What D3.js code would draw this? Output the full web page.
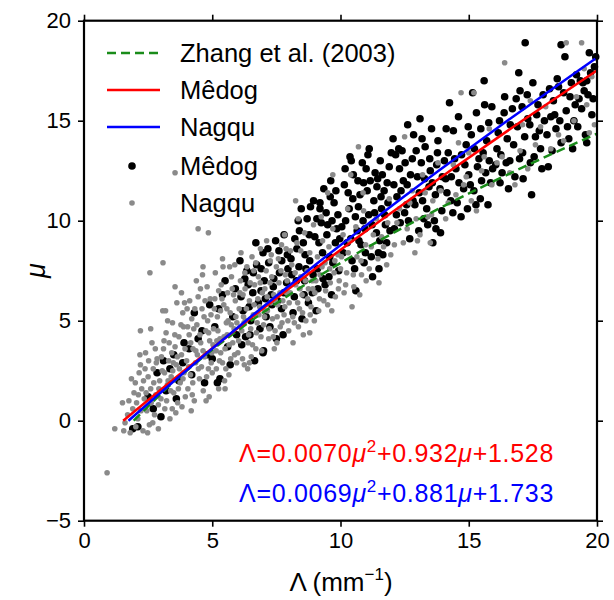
<!DOCTYPE html>
<html>
<head>
<meta charset="utf-8">
<script src="https://cdn.jsdelivr.net/npm/d3@7"></script>
<style>
body { margin: 0; background: #fff; }
svg { font-family: "Liberation Sans", Arial, sans-serif; }
</style>
</head>
<body>
<div id="chart"></div>
<script>
// tick values and labels
const xTicks = [0, 5, 10, 15, 20];
const xTickLabels = ['0', '5', '10', '15', '20'];
const yTicks = [-5, 0, 5, 10, 15, 20];
const yTickLabels = ['\u22125', '0', '5', '10', '15', '20'];

// fitted curves, read along mu
const zhangMu = [0, 2.5, 5, 7.5, 10, 12.5, 14.35];
const zhangLambda = [1.935, 4.0, 6.52, 9.5, 12.94, 16.83, 20.0];
const medogMu = [0, 2.5, 5, 7.5, 10, 12.5, 15, 17.5];
const medogLambda = [1.528, 3.902, 6.363, 8.912, 11.548, 14.272, 17.083, 19.982];
const nagquMu = [0, 2.5, 5, 7.5, 10, 12.5, 15, 17.5, 18.1];
const nagquLambda = [1.733, 3.979, 6.311, 8.729, 11.233, 13.824, 16.501, 19.264, 19.94];

// scatter points [Lambda, mu]
const medogPoints = [
  [1.9,-0.4],[2.1,-0.3],[3.0,0.2],[2.85,2.4],[3.35,2.6],[2.5,1.2],[2.7,0.6],[3.2,1.5],[3.5,3.3],[3.7,2.0],[3.9,3.9],[3.6,1.1],[3.1,3.0],[3.85,2.9],
  [4.45,4.1],[4.6,4.5],[4.2,2.3],[4.3,5.4],[4.8,3.3],[4.9,5.8],[4.1,3.6],[4.7,1.9],[5.2,1.9],[5.3,2.1],[5.1,4.7],[5.4,6.3],[5.6,3.7],[5.8,5.2],[5.5,7.0],[5.9,6.6],[5.7,2.8],[5.0,3.1],[5.25,5.6],[5.95,4.3],
  [6.08,8.0],[6.98,8.4],[6.65,3.0],[6.98,3.4],[7.0,3.5],[7.5,4.1],[7.76,4.3],[6.2,5.5],[6.4,6.8],[6.3,4.2],[6.6,7.4],[6.8,5.9],[6.5,5.0],[6.9,6.5],[7.2,7.9],[7.1,5.2],[7.3,6.3],[7.4,7.1],[7.6,8.5],[7.7,5.6],[7.9,6.9],[7.8,9.3],[7.25,4.7],[6.15,3.8],[6.7,8.9],[7.55,6.0],[7.95,7.6],[6.35,7.5],
  [6.12,6.2],[6.27,7.1],[6.44,5.7],[6.58,6.4],[6.73,7.8],[6.86,4.6],[7.03,7.0],[7.17,8.6],[7.33,5.8],[7.47,9.0],[7.62,7.4],[7.79,6.4],[7.93,8.3],[6.91,7.6],[7.38,6.7],[7.71,8.0],[6.47,4.3],[7.07,6.1],
  [8.15,5.4],[8.5,5.1],[8.1,7.3],[8.3,8.6],[8.2,6.2],[8.4,9.5],[8.6,7.0],[8.7,10.1],[8.8,8.0],[8.9,6.4],[8.55,8.9],[8.75,5.9],[9.0,9.2],[9.1,7.6],[9.2,10.6],[9.3,8.4],[9.4,6.8],[9.5,9.8],[9.6,11.2],[9.7,7.9],[9.8,8.9],[9.9,10.3],[9.35,11.6],[9.05,5.5],[9.65,6.3],[8.95,11.0],[9.55,7.2],[9.85,9.6],[8.35,10.0],[9.25,9.9],[9.75,10.9],[8.65,7.6],[9.2,10.9],
  [8.07,8.1],[8.22,9.1],[8.38,7.7],[8.47,10.6],[8.62,8.3],[8.78,9.3],[8.93,7.3],[9.08,10.1],[9.16,8.9],[9.32,7.1],[9.44,10.4],[9.58,8.2],[9.67,10.0],[9.82,11.5],[9.93,7.5],[8.83,10.7],[9.47,9.3],[9.12,6.6],[8.28,7.0],[9.97,9.1],[9.62,12.0],[8.58,6.3],
  [10.37,13.2],[11.07,13.3],[10.6,6.5],[11.5,7.6],[10.1,8.4],[10.2,10.0],[10.3,11.4],[10.4,9.1],[10.5,12.3],[10.55,7.6],[10.7,10.7],[10.8,8.8],[10.9,11.9],[10.95,9.6],[11.0,12.6],[11.1,10.3],[11.2,8.2],[11.3,11.0],[11.4,9.4],[11.45,12.1],[11.6,10.6],[11.7,11.5],[11.8,8.9],[11.9,12.7],[11.55,13.0],[10.15,11.8],[10.65,9.5],[11.25,7.2],[11.75,9.8],[11.85,10.9],[10.45,8.0],[11.35,12.4],[10.85,12.9],[11.65,8.3],
  [10.05,9.7],[10.18,12.6],[10.26,8.9],[10.34,10.6],[10.48,11.1],[10.58,10.2],[10.68,12.0],[10.76,11.3],[10.88,10.0],[10.97,8.4],[11.04,11.5],[11.16,12.0],[11.23,9.8],[11.33,10.4],[11.42,11.7],[11.53,9.0],[11.63,12.3],[11.72,10.3],[11.82,11.9],[11.93,9.5],[10.42,13.0],[11.12,13.6],[10.72,9.0],[11.58,11.2],[11.98,13.4],[10.92,7.9],[11.48,8.4],
  [12.05,14.1],[12.4,13.5],[13.1,15.1],[13.6,8.9],[13.9,9.4],[12.1,9.6],[12.2,11.2],[12.3,12.6],[12.5,10.4],[12.6,11.8],[12.7,9.1],[12.8,13.1],[12.9,10.8],[13.0,12.2],[13.2,11.0],[13.3,13.7],[13.4,9.8],[13.5,12.5],[13.7,11.3],[13.8,14.0],[13.95,10.5],[12.45,12.0],[12.85,14.3],[13.25,10.1],[13.45,11.7],[13.75,12.8],[12.15,13.3],[12.65,10.0],[13.05,9.5],[13.55,14.6],
  [12.08,11.8],[12.18,10.3],[12.27,13.6],[12.36,11.5],[12.52,12.9],[12.58,10.8],[12.73,12.3],[12.83,11.0],[12.95,13.5],[13.07,11.4],[13.15,12.9],[13.28,12.1],[13.36,10.6],[13.48,13.1],[13.58,11.9],[13.66,10.0],[13.78,13.4],[13.88,11.6],[13.97,12.2],[12.62,14.8],[13.18,14.1],[12.33,9.9],[13.72,9.6],
  [14.7,10.2],[15.75,10.8],[15.6,17.0],[14.1,12.1],[14.2,13.4],[14.3,11.0],[14.4,14.5],[14.5,12.6],[14.6,15.2],[14.8,11.6],[14.9,13.8],[15.0,12.3],[15.1,14.3],[15.2,11.5],[15.3,15.4],[15.4,13.1],[15.5,12.0],[15.7,14.0],[15.8,13.0],[15.9,15.7],[14.25,15.9],[14.55,10.9],[15.15,16.4],[15.45,11.1],[14.95,10.6],[15.85,11.9],
  [14.05,13.0],[14.15,11.4],[14.32,12.2],[14.45,13.1],[14.62,11.9],[14.72,13.3],[14.85,12.8],[14.98,14.7],[15.06,11.8],[15.22,13.6],[15.34,12.7],[15.47,14.6],[15.56,13.4],[15.66,12.4],[15.78,14.9],[15.93,12.6],[14.38,10.4],[15.28,10.8],[14.12,14.6],[15.62,15.8],
  [17.2,18.9],[16.1,13.6],[16.2,15.0],[16.3,12.4],[16.4,16.2],[16.5,14.1],[16.6,13.0],[16.7,15.6],[16.8,12.2],[16.9,14.7],[17.0,16.5],[17.1,13.4],[17.3,15.1],[17.4,12.9],[17.5,16.9],[17.6,14.2],[17.7,15.8],[17.8,13.6],[17.9,16.3],[16.55,11.6],[17.45,11.3],[16.95,17.4],
  [16.05,12.8],[16.15,14.4],[16.25,13.3],[16.38,15.4],[16.46,12.9],[16.62,14.8],[16.75,13.8],[16.85,16.1],[16.98,13.1],[17.08,15.7],[17.18,14.2],[17.28,16.3],[17.38,14.8],[17.55,13.2],[17.65,15.3],[17.75,14.5],[17.85,12.6],[17.95,15.0],[16.22,11.9],[17.12,12.1],
  [18.6,18.8],[18.75,18.2],[19.7,18.4],[18.1,12.7],[18.6,13.9],[18.2,15.2],[18.3,16.0],[18.4,14.6],[18.5,16.7],[18.8,15.5],[18.9,14.1],[19.0,16.9],[19.1,15.0],[19.2,17.3],[19.3,16.1],[19.4,15.6],[19.5,16.5],[19.6,17.0],[19.8,15.3],[19.9,17.7],
  [18.05,14.3],[18.15,16.6],[18.25,13.5],[18.35,15.3],[18.45,17.1],[18.55,15.0],[18.7,16.4],[18.85,14.7],[18.95,16.2],[19.05,13.6],[19.15,15.8],[19.25,14.7],[19.35,17.0],[19.45,16.9],[19.55,14.3],[19.65,16.3],[19.75,17.4],[19.85,16.1],[19.95,18.2],[19.6,13.9]
];

const nagquPoints = [
  [0.9,-2.6],[1.2,-0.4],[1.5,0.9],[1.7,0.3],[1.8,-0.6],[1.9,0.6],[1.6,-0.1],[1.95,1.4],
  [2.0,1.9],[2.1,0.1],[2.2,2.8],[2.3,-0.5],[2.35,1.1],[2.4,3.4],[2.45,0.5],[2.5,2.2],[2.55,-0.2],[2.6,1.6],[2.65,3.9],[2.7,2.6],[2.75,0.3],[2.8,1.3],[2.85,3.1],[2.9,0.8],[2.95,2.0],[2.25,1.6],[2.15,2.4],[2.05,0.9],[2.6,4.6],[2.9,-0.4],
  [1.55,-0.5],[1.75,1.0],[1.85,2.1],[2.02,-0.3],[2.12,1.3],[2.22,0.5],[2.32,2.0],[2.42,1.4],[2.52,3.0],[2.62,0.9],[2.72,1.9],[2.82,2.9],[2.92,1.6],[2.48,-0.6],[2.18,3.3],[2.78,3.6],[2.38,2.6],[2.68,-0.1],
  [3.0,1.1],[3.05,2.5],[3.1,3.6],[3.15,0.6],[3.2,4.4],[3.25,1.8],[3.3,3.0],[3.35,0.1],[3.4,2.2],[3.45,4.9],[3.5,1.4],[3.55,3.7],[3.6,2.8],[3.65,0.9],[3.7,4.2],[3.75,1.9],[3.8,3.3],[3.85,5.4],[3.9,2.4],[3.95,1.2],[3.12,4.0],[3.28,2.0],[3.42,3.4],[3.58,0.4],[3.72,2.6],[3.88,4.7],[3.18,5.5],[3.62,5.9],[3.82,0.7],[3.48,2.9],
  [3.02,3.2],[3.14,2.4],[3.22,1.0],[3.32,3.9],[3.38,1.5],[3.46,2.5],[3.54,4.3],[3.64,3.2],[3.68,1.6],[3.78,4.8],[3.86,2.1],[3.94,3.6],
  [4.0,3.0],[4.05,1.6],[4.1,4.3],[4.15,2.3],[4.2,5.1],[4.25,3.6],[4.3,1.0],[4.35,2.9],[4.4,4.8],[4.45,6.2],[4.5,2.1],[4.55,3.9],[4.6,5.6],[4.65,1.5],[4.7,3.2],[4.75,4.5],[4.8,6.7],[4.85,2.6],[4.9,4.0],[4.95,5.3],[4.12,6.0],[4.28,4.6],[4.42,3.3],[4.58,2.7],[4.72,6.0],[4.88,1.2],[4.38,7.0],[4.62,7.3],[4.02,5.6],[4.98,3.4],[4.18,0.5],[4.82,5.0],
  [4.04,4.7],[4.08,2.7],[4.16,3.9],[4.24,1.9],[4.32,5.6],[4.36,3.5],[4.46,2.6],[4.52,4.3],[4.64,3.5],[4.68,5.2],[4.78,2.2],[4.86,4.4],[4.92,6.1],[4.96,2.9],[3.26,5.0],[3.92,5.9],[4.54,6.6],[3.44,0.6],[4.22,1.3],[4.76,1.0],
  [5.0,2.4],[5.05,4.6],[5.1,6.1],[5.15,3.5],[5.2,5.2],[5.25,1.6],[5.3,4.1],[5.35,6.8],[5.4,2.9],[5.45,5.8],[5.5,3.6],[5.55,4.9],[5.6,6.4],[5.65,2.3],[5.7,5.4],[5.75,7.2],[5.8,3.9],[5.85,4.6],[5.9,6.0],[5.95,2.9],[5.12,7.4],[5.28,3.0],[5.42,7.7],[5.58,4.3],[5.72,3.1],[5.88,7.8],[5.18,4.0],[5.62,5.0],[5.32,5.5],[5.78,6.6],[5.48,2.0],[5.92,5.2],
  [5.03,3.8],[5.08,5.6],[5.16,2.6],[5.22,4.5],[5.33,3.4],[5.38,6.1],[5.46,4.2],[5.53,2.6],[5.57,5.6],[5.66,3.8],[5.74,4.8],[5.83,6.3],[5.87,3.3],[5.96,4.9],[5.25,6.5],[5.68,7.7],[5.5,1.6],
  [6.0,3.4],[6.05,5.6],[6.1,7.0],[6.15,4.5],[6.2,6.3],[6.25,2.8],[6.3,5.0],[6.35,7.7],[6.4,3.9],[6.45,6.0],[6.5,4.6],[6.55,8.2],[6.6,5.3],[6.65,6.8],[6.7,3.6],[6.75,4.9],[6.8,7.2],[6.85,5.7],[6.9,4.2],[6.95,6.4],[6.12,8.4],[6.38,2.6],[6.62,7.5],[6.88,8.6],[6.28,6.6],[6.52,3.2],[6.78,6.1],[6.22,5.2],
  [6.03,4.0],[6.08,6.4],[6.18,3.1],[6.24,4.9],[6.33,5.6],[6.42,4.3],[6.48,6.9],[6.57,3.8],[6.63,5.8],[6.72,4.4],[6.82,5.3],[6.87,6.9],[6.93,3.5],[6.98,5.6],[6.27,7.4],[6.7,7.9],[6.45,2.9],
  [7.0,4.8],[7.05,6.6],[7.1,7.5],[7.15,5.5],[7.2,4.1],[7.25,6.9],[7.3,8.3],[7.35,5.1],[7.4,6.3],[7.45,4.5],[7.5,7.7],[7.55,5.8],[7.6,6.9],[7.65,4.7],[7.7,8.8],[7.75,6.0],[7.8,5.3],[7.85,7.3],[7.9,6.4],[7.95,5.0],[7.12,9.0],[7.42,3.6],[7.58,8.1],[7.82,9.3],[7.28,5.9],[7.68,7.5],
  [7.04,5.2],[7.14,6.2],[7.22,4.6],[7.32,7.2],[7.38,4.2],[7.46,6.0],[7.53,5.2],[7.64,6.4],[7.72,4.9],[7.83,5.7],[7.92,7.0],[7.98,4.5],[7.26,8.0],[7.88,8.6],[7.52,3.9],
  [8.0,5.9],[8.1,7.8],[8.2,4.9],[8.25,6.8],[8.3,8.9],[8.4,5.6],[8.45,7.2],[8.5,6.3],[8.6,9.4],[8.65,5.0],[8.7,7.5],[8.75,6.6],[8.8,8.4],[8.85,5.7],[8.9,7.0],[8.95,9.8],[8.15,3.9],[8.55,4.3],[8.35,10.1],[8.05,8.5],[8.8,4.4],[8.25,11.0],
  [8.04,6.4],[8.14,5.2],[8.23,7.4],[8.33,5.9],[8.42,6.6],[8.52,5.4],[8.63,7.0],[8.72,6.1],[8.82,5.3],[8.92,6.6],[8.98,5.0],[8.45,8.5],[8.36,4.7],
  [9.0,6.4],[9.1,8.2],[9.15,5.5],[9.2,7.3],[9.3,9.0],[9.35,6.0],[9.4,7.9],[9.5,5.8],[9.55,8.7],[9.6,6.9],[9.7,9.6],[9.75,7.4],[9.8,6.2],[9.9,8.3],[9.95,7.0],[9.25,10.2],[9.7,12.3],[9.5,11.4],
  [9.04,7.0],[9.18,6.1],[9.28,7.7],[9.42,6.5],[9.58,7.6],[9.66,5.5],[9.78,8.0],[9.92,6.6],
  [10.0,7.6],[10.1,9.3],[10.2,6.8],[10.3,8.4],[10.4,12.3],[10.5,7.3],[10.6,9.7],[10.7,13.7],[10.8,8.0],[10.9,10.5],[11.0,7.0],[11.2,8.7],[11.4,10.1],[11.5,6.9],[11.6,9.2],[11.8,7.8],[11.9,11.1],[10.75,6.3],[10.45,5.7],
  [10.04,8.2],[10.14,6.4],[10.24,7.4],[10.36,9.0],[10.52,6.7],[10.64,8.2],[10.82,7.3],[10.98,8.8],[11.12,7.6],[11.28,9.3],[11.46,8.1],[11.68,8.7],[11.84,9.9],[11.96,8.3],[10.28,10.6],[10.88,11.4],
  [12.1,8.8],[12.3,10.6],[12.5,14.2],[12.6,9.6],[12.8,11.5],[13.0,9.0],[13.2,12.3],[13.4,10.2],[13.6,11.0],[13.8,12.9],[12.9,8.4],[13.5,8.9],
  [12.2,9.9],[12.45,8.9],[12.7,10.9],[12.95,10.1],[13.1,9.3],[13.3,11.4],[13.55,10.3],[13.9,11.5],
  [14.2,10.9],[14.4,12.8],[14.7,16.4],[15.2,16.4],[14.8,11.8],[15.0,13.4],[15.3,10.5],[15.5,12.5],[15.8,14.6],[14.6,13.9],
  [14.1,10.1],[14.5,11.3],[14.9,12.2],[15.1,11.0],[15.6,13.2],[15.9,11.8],
  [16.4,17.9],[16.3,13.2],[16.8,11.8],[17.1,14.8],[17.6,13.8],[18.0,15.7],[18.8,18.9],[19.4,18.9],[19.9,14.8],[19.8,17.2],[18.5,14.3],[19.2,16.2],[17.4,16.0],[19.6,15.8],
  [16.1,12.9],[16.6,12.4],[17.0,13.5],[17.3,12.6],[17.8,14.7],[18.2,13.6],[18.7,14.0],[19.1,15.0],[19.5,17.6],[19.7,14.4],
  [3.55,12.4],[4.45,9.6],[4.85,9.4],[3.08,7.9],[2.57,7.4],[4.64,7.7],[5.4,8.1],[3.07,5.5],[3.55,6.7],[3.8,6.4],[2.2,4.5]
];

const width = 614, height = 600;
const svg = d3.select('#chart')
  .append('svg')
  .attr('width', width)
  .attr('height', height);

const x = d3.scaleLinear().domain([0, 20]).range([84, 597]);
const y = d3.scaleLinear().domain([-5, 20]).range([520.7, 20.7]);

// scatter first, lines drawn over them
svg.append('g').selectAll('circle')
  .data(medogPoints)
  .enter().append('circle')
  .attr('cx', d => x(d[0]))
  .attr('cy', d => y(d[1]))
  .attr('r', 3.8)
  .attr('fill', '#000');

svg.append('g').selectAll('circle')
  .data(nagquPoints)
  .enter().append('circle')
  .attr('cx', d => x(d[0]))
  .attr('cy', d => y(d[1]))
  .attr('r', 2.8)
  .attr('fill', '#8a8a8a');

const line = d3.line()
  .x(d => x(d[0]))
  .y(d => y(d[1]))
  .curve(d3.curveMonotoneY);

svg.append('path')
  .attr('d', line(zhangMu.map((m, i) => [zhangLambda[i], m])))
  .attr('fill', 'none')
  .attr('stroke', '#1a8c1a')
  .attr('stroke-width', 2.5)
  .attr('stroke-dasharray', '9,5');

svg.append('path')
  .attr('d', line(medogMu.map((m, i) => [medogLambda[i], m])))
  .attr('fill', 'none')
  .attr('stroke', '#ff0000')
  .attr('stroke-width', 2.5);

svg.append('path')
  .attr('d', line(nagquMu.map((m, i) => [nagquLambda[i], m])))
  .attr('fill', 'none')
  .attr('stroke', '#0000ff')
  .attr('stroke-width', 2.5);

// axes on all four sides, ticks pointing out
const axBottom = svg.append('g')
  .attr('transform', 'translate(0,520.7)')
  .call(d3.axisBottom(x).tickValues(xTicks).tickSize(6).tickPadding(6)
    .tickFormat((d, i) => xTickLabels[i]));
const axTop = svg.append('g')
  .attr('transform', 'translate(0,20.7)')
  .call(d3.axisTop(x).tickValues(xTicks).tickSize(6).tickFormat(''));
const axLeft = svg.append('g')
  .attr('transform', 'translate(84,0)')
  .call(d3.axisLeft(y).tickValues(yTicks).tickSize(6).tickPadding(7)
    .tickFormat((d, i) => yTickLabels[i]));
const axRight = svg.append('g')
  .attr('transform', 'translate(597,0)')
  .call(d3.axisRight(y).tickValues(yTicks).tickSize(6).tickFormat(''));

[axBottom, axTop, axLeft, axRight].forEach(g => {
  g.select('.domain').remove();
  g.selectAll('.tick line').attr('stroke', '#000').attr('stroke-width', 1.6);
  g.selectAll('.tick text')
    .attr('fill', '#000')
    .style('font-size', '22px')
    .style('font-family', '"Liberation Sans", Arial, sans-serif');
});

svg.append('rect')
  .attr('x', 84).attr('y', 20.7)
  .attr('width', 513).attr('height', 500)
  .attr('fill', 'none')
  .attr('stroke', '#000')
  .attr('stroke-width', 2.2);

// axis titles
const xLabel = svg.append('text')
  .attr('x', 341).attr('y', 591)
  .attr('text-anchor', 'middle')
  .style('font-size', '26px');
xLabel.append('tspan').text('\u039B (mm');
xLabel.append('tspan').attr('dy', -11).style('font-size', '17px').text('\u22121');
xLabel.append('tspan').attr('dy', 11).text(')');

svg.append('text')
  .attr('transform', 'translate(45,270.7) rotate(-90)')
  .attr('text-anchor', 'middle')
  .style('font-size', '27px')
  .style('font-style', 'italic')
  .text('\u03BC');

// legend
const legLines = [
  { label: 'Zhang et al. (2003)', color: '#1a8c1a', dash: '9,5', y: 53 },
  { label: 'M\u00EAdog', color: '#ff0000', dash: null, y: 90 },
  { label: 'Nagqu', color: '#0000ff', dash: null, y: 127 }
];
legLines.forEach(d => {
  svg.append('line')
    .attr('x1', 107).attr('x2', 160)
    .attr('y1', d.y).attr('y2', d.y)
    .attr('stroke', d.color)
    .attr('stroke-width', 2.5)
    .attr('stroke-dasharray', d.dash);
  svg.append('text')
    .attr('x', 180).attr('y', d.y + 9)
    .style('font-size', '25.5px')
    .text(d.label);
});
const legDots = [
  { label: 'M\u00EAdog', color: '#000', r: 3.8, y: 166 },
  { label: 'Nagqu', color: '#8a8a8a', r: 2.8, y: 203 }
];
legDots.forEach(d => {
  svg.append('circle')
    .attr('cx', 132).attr('cy', d.y)
    .attr('r', d.r)
    .attr('fill', d.color);
  svg.append('text')
    .attr('x', 180).attr('y', d.y + 9)
    .style('font-size', '25.5px')
    .text(d.label);
});

// fitted equations
const eqs = [
  { parts: ['0.0070', '0.932', '1.528'], color: '#ff0000', y: 462 },
  { parts: ['0.0069', '0.881', '1.733'], color: '#0000ff', y: 502 }
];
eqs.forEach(e => {
  const t = svg.append('text')
    .attr('x', 239).attr('y', e.y)
    .attr('fill', e.color)
    .style('font-size', '25px')
    .style('letter-spacing', '0.7px');
  t.append('tspan').text('\u039B=' + e.parts[0]);
  t.append('tspan').style('font-style', 'italic').text('\u03BC');
  t.append('tspan').attr('dy', -10).style('font-size', '17px').text('2');
  t.append('tspan').attr('dy', 10).text('+' + e.parts[1]);
  t.append('tspan').style('font-style', 'italic').text('\u03BC');
  t.append('tspan').text('+' + e.parts[2]);
});
</script>
</body>
</html>
